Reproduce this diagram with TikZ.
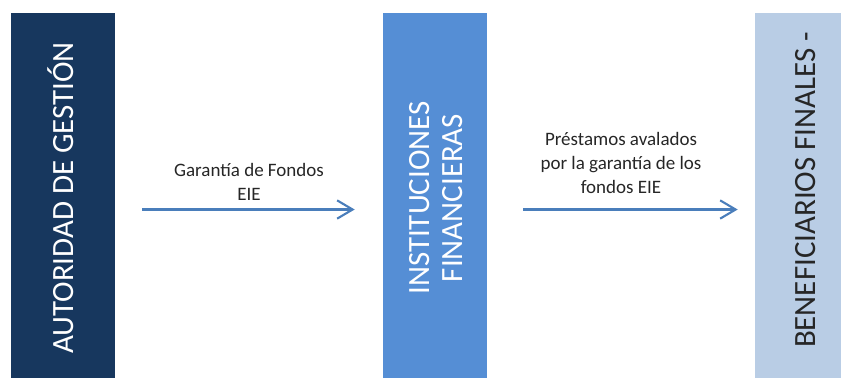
\documentclass[tikz,border=0pt]{standalone}
\usepackage{fontspec}
\setmainfont{Carlito}
\usetikzlibrary{arrows.meta,positioning}
\definecolor{navybar}{HTML}{17375E}
\definecolor{bluebar}{HTML}{558ED5}
\definecolor{palebar}{HTML}{B9CDE5}
\definecolor{flowblue}{HTML}{4A7EBB}

\begin{document}
\begin{tikzpicture}[
        x=0.025cm, y=-0.025cm,
        bar/.style={
            rectangle,
            draw=none,
            minimum height=9.125cm,
            inner sep=0pt
        },
        bartext/.style={
            rotate=90,
            align=center,
            inner sep=0pt,
            font=\fontsize{22}{24}\selectfont
        },
        flowlabel/.style={
            align=center,
            inner sep=0pt,
            text=black!85,
            font=\fontsize{13.5}{17}\selectfont
        },
        arrow/.style={
            -{Straight Barb[length=11pt,width=13pt,line width=1.5pt]},
            draw=flowblue,
            line width=1.6pt
        }
    ]

        \useasboundingbox (0,0) rectangle (846,378);

        % Las tres columnas
        \node[bar, fill=navybar, minimum width=2.6cm]  (auth) at (63,195.5) {};
        \node[bar, fill=bluebar, minimum width=2.6cm]  (inst) at (435,195.5) {};
        \node[bar, fill=palebar, minimum width=2.15cm] (bene) at (798,195.5) {};

        % Textos girados
        \node[bartext, text=white] (auth-text) at (61,198)
            {AUTORIDAD DE GESTIÓN};
        \node[bartext, text=white] (inst-text) at (436,198)
            {INSTITUCIONES\\FINANCIERAS};
        \node[bartext, text=black!85] (bene-text) at (806,190)
            {BENEFICIARIOS FINALES -};

        % Flujos
        \draw[arrow, shorten <=0.675cm, shorten >=0.7cm]
            ([yshift=-0.35cm]auth.east) -- ([yshift=-0.35cm]inst.west)
            node[flowlabel, midway, above=5.7pt] (guarantee)
                {Garantía de Fondos\\EIE};

        \draw[arrow, shorten <=0.9cm, shorten >=0.425cm]
            ([yshift=-0.35cm]inst.east) -- ([yshift=-0.35cm]bene.west)
            node[flowlabel, midway, above=10.5pt] (loans)
                {Préstamos avalados\\por la garantía de los\\fondos EIE};

    \end{tikzpicture}
\end{document}
